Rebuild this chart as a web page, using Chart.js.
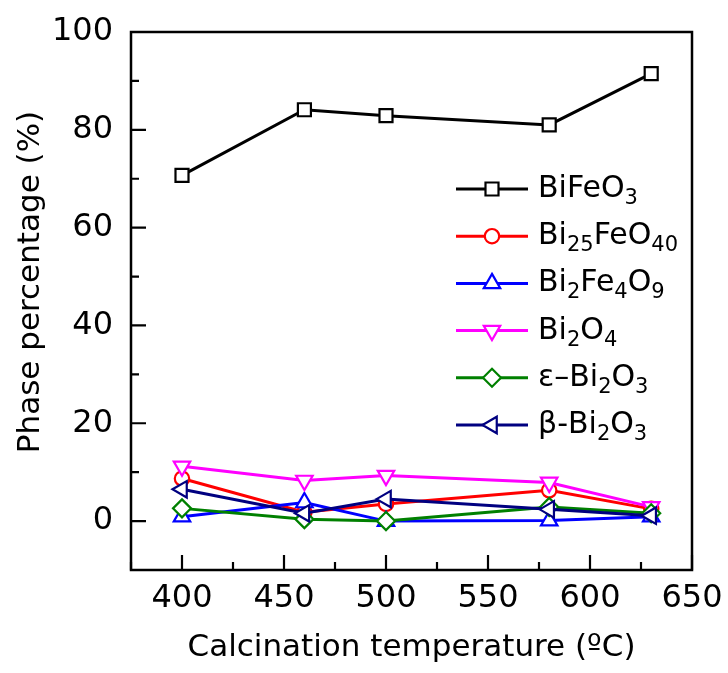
<!DOCTYPE html>
<html><head><meta charset="utf-8">
<script src="https://cdn.jsdelivr.net/npm/chart.js@4/dist/chart.umd.min.js"></script>
<style>html,body{margin:0;padding:0;background:#fff}#wrap{width:728px;height:673px}</style>
</head><body><div id="wrap"><canvas id="c" width="728" height="673"></canvas></div>
<script>
const temperatures = [400, 460, 500, 580, 630];
const seriesNames = ["BiFeO3", "Bi25FeO40", "Bi2Fe4O9", "Bi2O4", "ε–Bi2O3", "β-Bi2O3"];
const BiFeO3    = [70.7, 84.1, 82.9, 81.0, 91.5];
const Bi25FeO40 = [8.7, 1.8, 3.5, 6.3, 2.5];
const Bi2Fe4O9  = [0.9, 3.8, 0.0, 0.1, 0.9];
const Bi2O4     = [11.2, 8.3, 9.3, 7.9, 2.9];
const epsBi2O3  = [2.6, 0.4, 0.0, 2.9, 1.6];
const betaBi2O3 = [6.5, 1.6, 4.5, 2.4, 1.1];
const xTicks = [400, 450, 500, 550, 600, 650];
const yTicks = [0, 20, 40, 60, 80, 100];
const xTitle = "Calcination temperature (ºC)";
const yTitle = "Phase percentage (%)";

const seriesValues = [BiFeO3, Bi25FeO40, Bi2Fe4O9, Bi2O4, epsBi2O3, betaBi2O3];
const colors = ['#000000', '#ff0000', '#0000ff', '#ff00ff', '#008000', '#000080'];
const pstyles = ['rect', 'circle', 'triangle', 'triangle', 'rectRot', 'triangle'];
const rotations = [0, 0, 0, 180, 0, -90];
const radii = [9.2, 7.2, 9.5, 9.5, 9, 9.5];
const FONT = '"DejaVu Sans", sans-serif';

const datasets = seriesValues.map((vals, i) => ({
  label: seriesNames[i],
  data: temperatures.map((t, j) => ({x: t, y: vals[j]})),
  borderColor: colors[i],
  backgroundColor: '#fff',
  borderWidth: 3,
  pointStyle: pstyles[i],
  rotation: rotations[i],
  pointRadius: radii[i],
  pointBorderWidth: 2.2,
  pointBackgroundColor: '#fff',
  pointBorderColor: colors[i],
  order: seriesValues.length - i,
  clip: false
}));

function drawRich(ctx, text, x, y, size, subSize, subDy) {
  let cx = x;
  const runs = text.match(/[0-9]+|[^0-9]+/g);
  for (const r of runs) {
    const sub = /^[0-9]/.test(r);
    ctx.font = (sub ? subSize : size) + 'px ' + FONT;
    ctx.fillText(r, cx, sub ? y + subDy : y);
    cx += ctx.measureText(r).width;
  }
}

function zeroPad(s) { s.paddingTop = 0; s.paddingBottom = 0; s.paddingLeft = 0; s.paddingRight = 0; }

const framePlugin = {
  id: 'frame',
  afterDraw(chart) {
    const ctx = chart.ctx, a = chart.chartArea;
    const xs = chart.scales.x, ys = chart.scales.y;
    ctx.save();
    ctx.strokeStyle = '#000';
    ctx.lineWidth = 2.5;
    ctx.strokeRect(a.left, a.top, a.right - a.left, a.bottom - a.top);
    ctx.lineWidth = 2.2;
    ctx.beginPath();
    const xStep = xTicks[1] - xTicks[0];
    for (let v = xs.min; v <= xs.max + 1e-9; v += xStep / 2) {
      const major = xTicks.includes(v);
      const px = xs.getPixelForValue(v);
      ctx.moveTo(px, a.bottom);
      ctx.lineTo(px, a.bottom - (major ? 15 : 8));
    }
    const yStep = yTicks[1] - yTicks[0];
    for (let v = ys.min; v <= ys.max + 1e-9; v += yStep / 2) {
      const major = yTicks.includes(v);
      const py = ys.getPixelForValue(v);
      ctx.moveTo(a.left, py);
      ctx.lineTo(a.left + (major ? 15 : 8), py);
    }
    ctx.stroke();

    // axis titles
    ctx.fillStyle = '#000';
    ctx.font = '31px ' + FONT;
    ctx.textAlign = 'center';
    ctx.textBaseline = 'middle';
    ctx.fillText(xTitle, (a.left + a.right) / 2, 648);
    ctx.save();
    ctx.translate(31, 282);
    ctx.rotate(-Math.PI / 2);
    ctx.fillText(yTitle, 0, 0);
    ctx.restore();

    // legend
    ctx.textAlign = 'left';
    ctx.textBaseline = 'alphabetic';
    chart.data.datasets.forEach((ds, i) => {
      const ry = 189 + i * 47.2;
      ctx.strokeStyle = ds.borderColor;
      ctx.lineWidth = 3;
      ctx.beginPath();
      ctx.moveTo(456, ry);
      ctx.lineTo(528, ry);
      ctx.stroke();
      ctx.fillStyle = '#fff';
      ctx.lineWidth = ds.pointBorderWidth;
      Chart.helpers.drawPoint(ctx, {pointStyle: ds.pointStyle, rotation: ds.rotation, radius: ds.pointRadius, borderWidth: ds.pointBorderWidth}, 492, ry);
      ctx.fillStyle = '#000';
      drawRich(ctx, ds.label, 538, ry + 8, 30, 21, 7);
    });
    ctx.restore();
  }
};

new Chart(document.getElementById('c'), {
  type: 'line',
  data: {datasets},
  options: {
    responsive: false,
    animation: false,
    layout: {padding: {top: 32, right: 36, left: 0, bottom: 0}},
    plugins: {legend: {display: false}, tooltip: {enabled: false}},
    scales: {
      x: {
        type: 'linear', min: 375, max: 650,
        grid: {display: false, drawTicks: false},
        border: {display: false},
        afterBuildTicks: s => { s.ticks = xTicks.map(v => ({value: v})); },
        afterFit: s => { s.height = 103; zeroPad(s); },
        ticks: {font: {family: FONT, size: 32}, color: '#000', padding: 9, maxRotation: 0, autoSkip: false}
      },
      y: {
        type: 'linear', min: -10, max: 100,
        grid: {display: false, drawTicks: false},
        border: {display: false},
        afterBuildTicks: s => { s.ticks = yTicks.map(v => ({value: v})); },
        afterFit: s => { s.width = 131; zeroPad(s); },
        ticks: {font: {family: FONT, size: 32}, color: '#000', padding: 18, autoSkip: false}
      }
    }
  },
  plugins: [framePlugin]
});
</script>
</body></html>
